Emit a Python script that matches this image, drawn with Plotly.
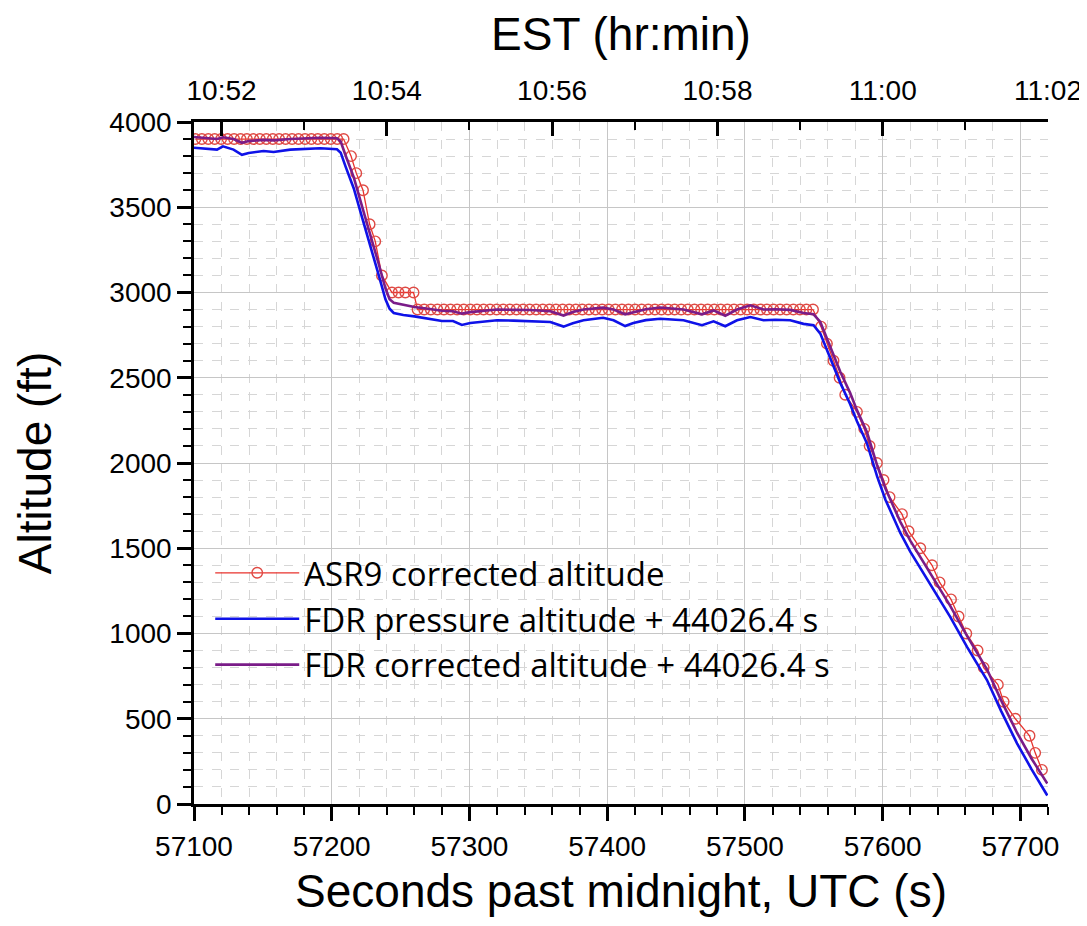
import plotly.graph_objects as go

# ---------------- data ----------------
asr9_time = [
    57101.0, 57105.7, 57110.4, 57115.0, 57119.7, 57124.4, 57129.1, 57133.8, 57138.4, 57143.1,
    57147.8, 57152.5, 57157.2, 57161.8, 57166.5, 57171.2, 57175.9, 57180.6, 57185.2, 57189.9,
    57194.6, 57199.3, 57204.0, 57208.6,
    57214.0, 57217.8, 57222.7, 57227.5, 57231.6, 57236.4, 57243.7, 57248.5, 57253.4, 57259.4,
    57262.3, 57267.1, 57271.9, 57276.7, 57281.4, 57286.2, 57291.0, 57295.8, 57300.6, 57305.4,
    57310.2, 57314.9, 57319.7, 57324.5, 57329.3, 57334.1, 57338.9, 57343.7, 57348.4, 57353.2,
    57358.0, 57362.8, 57367.6, 57372.4, 57377.2, 57381.9, 57386.7, 57391.5, 57396.3, 57401.1,
    57405.9, 57410.7, 57415.4, 57420.2, 57425.0, 57429.8, 57434.6, 57439.4, 57444.2, 57448.9,
    57453.7, 57458.5, 57463.3, 57468.1, 57472.9, 57477.7, 57482.4, 57487.2, 57492.0, 57496.8,
    57501.6, 57506.4, 57511.2, 57515.9, 57520.7, 57525.5, 57530.3, 57535.1, 57539.9, 57544.6,
    57549.4,
    57555.2, 57559.5, 57564.3, 57568.7, 57572.8, 57581.3, 57586.6, 57590.5, 57595.8, 57600.6,
    57605.0, 57614.0, 57618.8, 57627.3, 57635.8, 57641.3, 57649.6, 57655.1, 57660.7, 57668.9,
    57673.3, 57683.6, 57687.8, 57696.3, 57706.6, 57710.7, 57715.6,
]
asr9_alt = (
    [3900] * 24
    + [3800, 3700, 3600, 3400, 3300, 3100, 3000, 3000, 3000, 3000]
    + [2900] * 61
    + [2800, 2700, 2600, 2500, 2400, 2300, 2200, 2100, 2000, 1900,
       1800, 1700, 1600, 1500, 1400, 1300, 1200, 1100, 1000, 900,
       800, 700, 600, 500, 400, 300, 200]
)

fdr_time = [
    57100, 57109.4, 57116.7, 57121, 57128.7, 57134.8, 57139.7, 57150.5, 57157.8, 57169.9,
    57184.4, 57191.7, 57203.8, 57206.5, 57210, 57216, 57222, 57228, 57234, 57239,
    57242, 57245, 57252, 57260, 57270, 57280, 57288, 57294.5, 57300.6, 57310,
    57320, 57332, 57344, 57358.7, 57368.3, 57375, 57382.8, 57397, 57404.6, 57413,
    57419, 57428, 57438.5, 57455.4, 57468.8, 57477.2, 57485.7, 57494.2, 57503.9, 57513.5,
    57522, 57532.9, 57542.5, 57549.8, 57554.7, 57562, 57569.2, 57576.4, 57581.3, 57588.6,
    57596, 57602, 57612.8, 57620, 57627.3, 57636.9, 57649, 57661.2, 57675.7, 57686,
    57697.5, 57708, 57719.5,
]
fdr_pressure_alt = [
    3849, 3844, 3838, 3857, 3838, 3808, 3818, 3830, 3824, 3838,
    3842, 3846, 3840, 3820, 3740, 3610, 3440, 3280, 3105, 2960,
    2905, 2880, 2868, 2860, 2845, 2833, 2833, 2810, 2821, 2830,
    2837, 2835, 2833, 2827, 2800, 2820, 2837, 2852, 2837, 2803,
    2821, 2838, 2846, 2837, 2808, 2831, 2802, 2837, 2856, 2837,
    2840, 2837, 2816, 2808, 2759, 2615, 2470, 2345, 2245, 2115,
    1920, 1785, 1590, 1480, 1385, 1254, 1098, 922, 727, 545,
    356, 205, 50,
]
fdr_corrected_alt = [
    3912, 3906, 3900, 3910, 3900, 3878, 3888, 3895, 3892, 3900,
    3905, 3908, 3905, 3885, 3805, 3675, 3505, 3345, 3170, 3025,
    2960, 2940, 2928, 2915, 2905, 2893, 2890, 2876, 2885, 2893,
    2900, 2898, 2897, 2890, 2865, 2885, 2900, 2911, 2900, 2872,
    2885, 2902, 2912, 2900, 2872, 2895, 2864, 2900, 2925, 2900,
    2902, 2898, 2880, 2872, 2827, 2680, 2535, 2410, 2310, 2180,
    1985, 1850, 1655, 1545, 1450, 1318, 1162, 986, 790, 608,
    418, 267, 120,
]

est_tick_vals = [57120, 57240, 57360, 57480, 57600, 57720]
est_tick_text = ["10:52", "10:54", "10:56", "10:58", "11:00", "11:02"]
est_minor_vals = [57180, 57300, 57420, 57540, 57660]

series_names = [
    "ASR9 corrected altitude",
    "FDR pressure altitude + 44026.4 s",
    "FDR corrected altitude + 44026.4 s",
]

FONT = "Liberation Sans, Arial, sans-serif"
LEGEND_FONT = "Open Sans, Liberation Sans, Arial, sans-serif"
X_RANGE = [57100, 57720]

fig = go.Figure()
fig.add_trace(go.Scatter(
    x=asr9_time, y=asr9_alt, name=series_names[0], mode="lines+markers",
    line=dict(color="#e8322c", width=1.3),
    marker=dict(symbol="circle-open", size=10.5, color="#df4a44", line=dict(width=1.4, color="#df4a44")),
))
fig.add_trace(go.Scatter(
    x=fdr_time, y=fdr_pressure_alt, name=series_names[1], mode="lines",
    line=dict(color="#0f12e8", width=2.6),
))
fig.add_trace(go.Scatter(
    x=fdr_time, y=fdr_corrected_alt, name=series_names[2], mode="lines",
    line=dict(color="#7a1c88", width=2.6),
))
# carrier for the top (EST) axis
fig.add_trace(go.Scatter(
    x=X_RANGE, y=[None, None], xaxis="x2", mode="lines", showlegend=False, hoverinfo="skip",
))

grid_major = "#c6c6c6"
grid_minor = "#d6d6d6"

# the page body has an 8 px default margin; size the figure to fit the 1087x926 window
fig.update_layout(
    width=1079, height=918,
    margin=dict(l=186, r=39, t=114, b=122, autoexpand=False),
    paper_bgcolor="white", plot_bgcolor="white",
    font=dict(family=FONT, color="black", size=27),
    showlegend=True,
    legend=dict(
        x=0.019, y=0.38, xanchor="left", yanchor="top",
        bgcolor="rgba(0,0,0,0)", font=dict(size=33, family=LEGEND_FONT),
        tracegroupgap=0, itemwidth=84,
    ),
    xaxis=dict(
        range=X_RANGE, tick0=57100, dtick=100, tickformat="d", automargin=False,
        showline=True, linecolor="black", linewidth=2.5,
        ticks="outside", ticklen=14, tickwidth=2.5, tickcolor="black",
        tickfont=dict(size=28), ticklabelstandoff=2,
        showgrid=True, gridcolor=grid_major, gridwidth=1.3,
        zeroline=False,
        minor=dict(dtick=20, ticks="outside", ticklen=8, tickwidth=2, tickcolor="black",
                   showgrid=True, gridcolor=grid_minor, gridwidth=1, griddash="dash"),
        title=dict(text="Seconds past midnight, UTC (s)", font=dict(size=46), standoff=14),
    ),
    xaxis2=dict(
        overlaying="x", side="top", anchor="y", range=X_RANGE, automargin=False,
        tickmode="array", tickvals=est_tick_vals, ticktext=est_tick_text,
        showline=True, linecolor="black", linewidth=2.5,
        ticks="inside", ticklen=14, tickwidth=2.5, tickcolor="black",
        tickfont=dict(size=28), ticklabelstandoff=8,
        showgrid=False, zeroline=False,
        minor=dict(tickvals=est_minor_vals, ticks="inside", ticklen=8, tickwidth=2,
                   tickcolor="black", showgrid=False),
        title=dict(text="EST (hr:min)", font=dict(size=46), standoff=22),
    ),
    yaxis=dict(
        range=[0, 4000], tick0=0, dtick=500, automargin=False,
        showline=True, linecolor="black", linewidth=2.5,
        ticks="outside", ticklen=14, tickwidth=2.5, tickcolor="black",
        tickfont=dict(size=28),
        showgrid=True, gridcolor=grid_major, gridwidth=1.3,
        zeroline=False,
        minor=dict(dtick=100, ticks="outside", ticklen=8, tickwidth=2, tickcolor="black",
                   showgrid=True, gridcolor=grid_minor, gridwidth=1, griddash="dash"),
        title=dict(text="Altitude (ft)", font=dict(size=46), standoff=44),
    ),
)

fig.write_html("out.html")
